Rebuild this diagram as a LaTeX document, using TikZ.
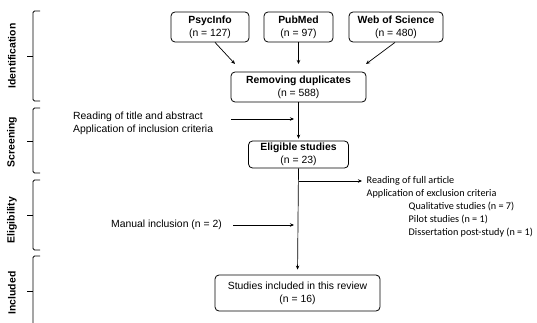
\documentclass[tikz,border=0pt]{standalone}
\usepackage{fontspec}
\setmainfont{Liberation Sans}
\newfontfamily\carlitofont{Carlito}
\usetikzlibrary{arrows.meta}
\begin{document}
\begin{tikzpicture}[x=1pt,y=1pt,
  font=\fontsize{10.4}{13}\selectfont,
  dbox/.style={draw, line width=0.8pt, rounded corners=4pt, align=center, inner sep=0pt},
  conn/.style={line width=0.7pt, -{Stealth[length=4pt,width=3.5pt]}},
  brc/.style={line width=0.8pt, rounded corners=1.5pt},
  phase/.style={rotate=90, font=\fontsize{10.4}{13}\selectfont\bfseries},
  ctext/.style={font=\carlitofont\fontsize{10.2}{13}\selectfont, inner sep=0pt, anchor=base west}
]
\useasboundingbox (0,0) rectangle (537,322);
% phase braces
\draw[brc] (40,311) -- (33,311) -- (33,221) -- (40,221);
\draw[brc] (27,266) -- (33,266);
\draw[brc] (40,214) -- (33,214) -- (33,149) -- (40,149);
\draw[brc] (27,181) -- (33,181);
\draw[brc] (40,142) -- (33,142) -- (33,72) -- (40,72);
\draw[brc] (27,107) -- (33,107);
\draw[brc] (40,66) -- (33,66) -- (33,-5);
\draw[brc] (27,31) -- (33,31);
\node[phase] (pid) at (12,266) {Identification};
\node[phase] (psc) at (12,180) {Screening};
\node[phase] (pel) at (12,102) {Eligibility};
\node[phase] (pin) at (12,29) {Included};
% boxes
\node[dbox, minimum width=78, minimum height=30] (ps) at (210,295) {\textbf{PsycInfo}\\(n = 127)};
\node[dbox, minimum width=69, minimum height=30] (pm) at (298.5,295) {\textbf{PubMed}\\(n = 97)};
\node[dbox, minimum width=94, minimum height=30] (ws) at (396,295) {\textbf{Web of Science}\\(n = 480)};
\node[dbox, minimum width=135, minimum height=30] (rd) at (298.5,235) {\textbf{Removing duplicates}\\(n = 588)};
\node[dbox, minimum width=100, minimum height=27] (el) at (298.5,167.5) {\textbf{Eligible studies}\\(n = 23)};
\node[dbox, minimum width=165, minimum height=36] (fi) at (297.5,29) {Studies included in this review\\(n = 16)};
% arrows from databases
\coordinate (psa) at (235,258);
\coordinate (pma) at (298.5,258);
\coordinate (wsa) at (366,258);
\draw[conn] (ps.south -| 215,0) -- (psa);
\draw[conn] (pm.south) -- (pma);
\draw[conn] (ws.south -| 395,0) -- (wsa);
% screening
\draw[conn, shorten >=2pt] (rd.south) -- (el.north);
\node[anchor=west, align=left, inner sep=0pt] (scr) at (73,198.5) {Reading of title and abstract\\Application of inclusion criteria};
\coordinate (scs) at (231,203);
\coordinate (sce) at (294,203);
\draw[conn] (scs) -- (sce);
% eligibility
\draw[conn, shorten >=5pt] (el.south) -- (fi.north);
\coordinate (br) at (298.5,141);
\coordinate (bre) at (362,141);
\draw[conn] (br) -- (bre);
\node[ctext] (ex1) at (366.5,138.5) {Reading of full article};
\node[ctext] (ex2) at (366.5,125.5) {Application of exclusion criteria};
\node[ctext] (ex3) at (408.5,112.5) {Qualitative studies (n = 7)};
\node[ctext] (ex4) at (408.5,99.5) {Pilot studies (n = 1)};
\node[ctext] (ex5) at (408.5,86.5) {Dissertation post-study (n = 1)};
\node[anchor=east, inner sep=0pt] (man) at (222,97) {Manual inclusion (n = 2)};
\coordinate (mas) at (233,97);
\coordinate (mae) at (294,97);
\draw[conn] (mas) -- (mae);
\end{tikzpicture}
\end{document}
